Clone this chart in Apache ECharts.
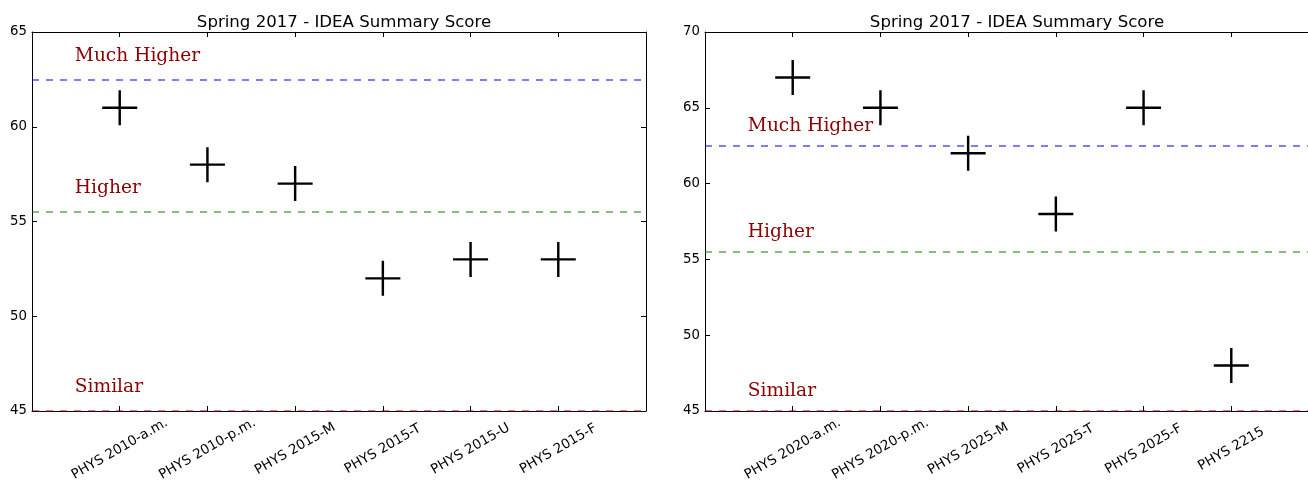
<!DOCTYPE html>
<html>
<head>
<meta charset="utf-8">
<script src="https://cdn.jsdelivr.net/npm/echarts@6/dist/echarts.min.js"></script>
<style>
html,body{margin:0;padding:0;background:#fff;}
#chart{width:1308px;height:482px;}
</style>
</head>
<body>
<div id="chart"></div>
<script>
// ---- data ----
const title = 'Spring 2017 - IDEA Summary Score';
const leftCategories = ['PHYS 2010-a.m.', 'PHYS 2010-p.m.', 'PHYS 2015-M', 'PHYS 2015-T', 'PHYS 2015-U', 'PHYS 2015-F'];
const leftScores = [61, 58, 57, 52, 53, 53];
const rightCategories = ['PHYS 2020-a.m.', 'PHYS 2020-p.m.', 'PHYS 2025-M', 'PHYS 2025-T', 'PHYS 2025-F', 'PHYS 2215'];
const rightScores = [67, 65, 62, 58, 65, 48];
const thresholds = [62.5, 55.5, 45];
const zoneLabels = ['Much Higher', 'Higher', 'Similar'];
const leftYRange = [45, 65];
const rightYRange = [45, 70];

// ---- styling ----
const thresholdColors = ['rgba(0,0,255,0.68)', 'rgba(0,128,0,0.65)', 'rgba(139,0,0,0.65)'];
const crossPath = 'path://M16.75,0h2.5v36h-2.5zM0,16.75h36v2.5h-36z';

const chart = echarts.init(document.getElementById('chart'));

const grids = [
  { left: 32, top: 32, width: 614, height: 379, outerBoundsMode: 'none', containLabel: false },
  { left: 705, top: 32, width: 614, height: 379, outerBoundsMode: 'none', containLabel: false }
];

const xAxes = [], yAxes = [], series = [], titles = [];
const panels = [
  { cats: leftCategories, scores: leftScores, yr: leftYRange },
  { cats: rightCategories, scores: rightScores, yr: rightYRange }
];

function axisLine() { return { show: true, onZero: false, lineStyle: { color: '#000', width: 1 } }; }
function tick() { return { show: true, inside: true, length: 5, lineStyle: { color: '#000', width: 1 } }; }

panels.forEach((p, i) => {
  const g = grids[i];
  titles.push({
    text: title,
    left: g.left + g.width / 2,
    top: 9,
    textAlign: 'center',
    textStyle: { fontFamily: 'DejaVu Sans', fontSize: 16.6, fontWeight: 'normal', color: '#000' }
  });
  xAxes.push({
    type: 'value', gridIndex: i, position: 'bottom', min: 0, max: 7, interval: 1,
    axisLine: axisLine(), axisTick: tick(), splitLine: { show: false },
    axisLabel: {
      show: true, rotate: 30, margin: 38, align: 'center', verticalAlign: 'middle',
      fontFamily: 'DejaVu Sans', fontSize: 13.5, color: '#000',
      formatter: v => p.cats[v - 1] || ''
    }
  });
  xAxes.push({
    type: 'value', gridIndex: i, position: 'top', min: 0, max: 7, interval: 1,
    axisLine: axisLine(), axisTick: tick(), splitLine: { show: false }, axisLabel: { show: false }
  });
  yAxes.push({
    type: 'value', gridIndex: i, position: 'left', min: p.yr[0], max: p.yr[1], interval: 5,
    axisLine: axisLine(), axisTick: tick(), splitLine: { show: false },
    axisLabel: { show: true, margin: 5, fontFamily: 'DejaVu Sans', fontSize: 13.3, color: '#000' }
  });
  yAxes.push({
    type: 'value', gridIndex: i, position: 'right', min: p.yr[0], max: p.yr[1], interval: 5,
    axisLine: axisLine(), axisTick: tick(), splitLine: { show: false }, axisLabel: { show: false }
  });

  const xi = i * 2, yi = i * 2;
  // threshold lines
  series.push({
    type: 'line', xAxisIndex: xi, yAxisIndex: yi, data: [], silent: true,
    markLine: {
      symbol: 'none', silent: true, label: { show: false },
      data: thresholds.map((t, k) => ({
        yAxis: t,
        lineStyle: { color: thresholdColors[k], type: [7, 7], width: 1.5 }
      }))
    }
  });
  // zone text labels
  series.push({
    type: 'scatter', xAxisIndex: xi, yAxisIndex: yi, symbolSize: 0, silent: true,
    itemStyle: { opacity: 1 },
    data: zoneLabels.map((name, k) => ({ name, value: [0.5, thresholds[k] + 1] })),
    label: {
      show: true, position: [0, 0], align: 'left', verticalAlign: 'bottom',
      formatter: d => d.name, offset: [-1, 5],
      fontFamily: 'DejaVu Serif', fontSize: 18.6, color: '#8b0000'
    }
  });
  // score markers
  series.push({
    type: 'scatter', xAxisIndex: xi, yAxisIndex: yi, z: 5,
    symbol: crossPath, symbolSize: 35,
    itemStyle: { color: '#000', opacity: 1 },
    data: p.scores.map((s, k) => [k + 1, s])
  });
});

chart.setOption({
  animation: false,
  backgroundColor: '#fff',
  title: titles,
  grid: grids,
  xAxis: xAxes,
  yAxis: yAxes,
  series
});
</script>
</body>
</html>
